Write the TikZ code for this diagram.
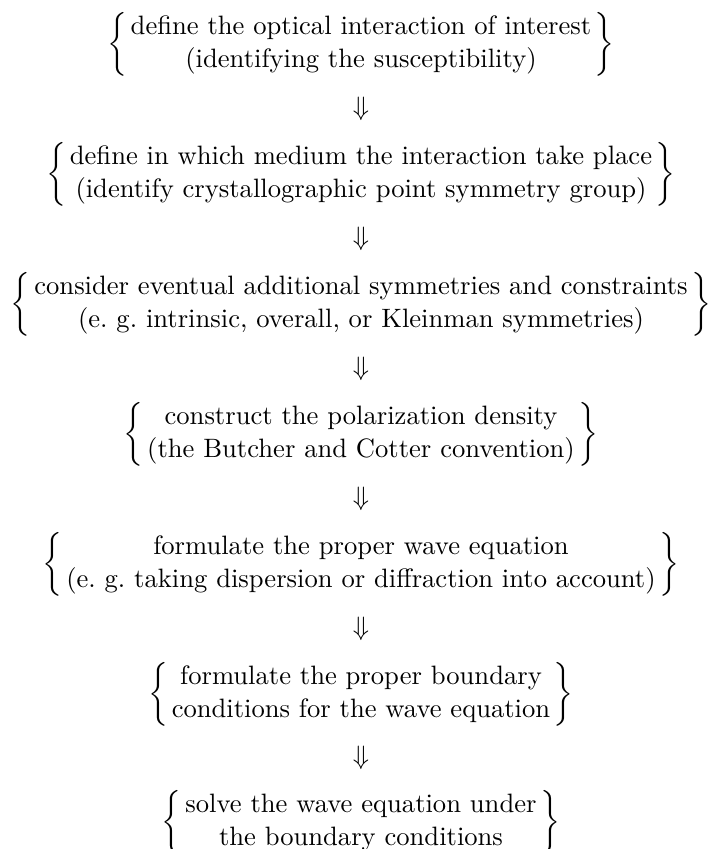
\documentclass[tikz,border=0pt]{standalone}
\usepackage{amsmath}
\begin{document}
\begin{tikzpicture}[x=0.376pt,y=-0.376pt]
\tikzset{blk/.style={inner sep=0pt, outer sep=0pt}, arr/.style={inner sep=0pt}}
\useasboundingbox (0,0) rectangle (712,849);
\setlength{\arraycolsep}{1.4pt}
\renewcommand{\arraystretch}{1.04}
\newcommand{\blk}[2]{$\left\{\begin{array}{c}\mbox{#1}\\ \mbox{#2}\end{array}\right\}$}
\node[blk] (b1) at (361,44) {\blk{define the optical interaction of interest}{(identifying the susceptibility)}};
\node[blk] (b2) at (361,174) {\blk{define in which medium the interaction take place}{(identify crystallographic point symmetry group)}};
\node[blk] (b3) at (361,304) {\blk{consider eventual additional symmetries and constraints}{(e.\ g.\ intrinsic, overall, or Kleinman symmetries)}};
\node[blk] (b4) at (361,434) {\blk{construct the polarization density}{(the Butcher and Cotter convention)}};
\node[blk] (b5) at (361,564) {\blk{formulate the proper wave equation}{(e.\ g.\ taking dispersion or diffraction into account)}};
\node[blk] (b6) at (361,694) {\blk{formulate the proper boundary}{conditions for the wave equation}};
\node[blk] (b7) at (361,822) {\blk{solve the wave equation under}{the boundary conditions}};
\path (b1) -- node[arr] {$\Downarrow$} (b2);
\path (b2) -- node[arr] {$\Downarrow$} (b3);
\path (b3) -- node[arr] {$\Downarrow$} (b4);
\path (b4) -- node[arr] {$\Downarrow$} (b5);
\path (b5) -- node[arr] {$\Downarrow$} (b6);
\path (b6) -- node[arr] {$\Downarrow$} (b7);
\end{tikzpicture}
\end{document}
